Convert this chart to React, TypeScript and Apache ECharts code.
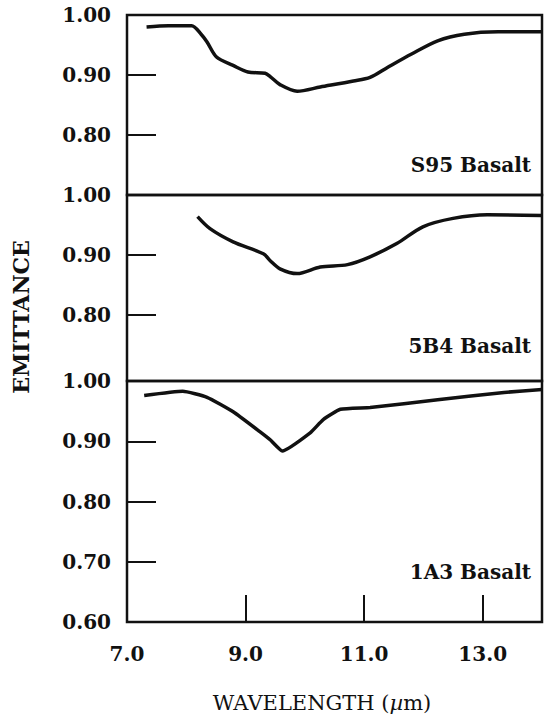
import React, { useEffect, useRef } from "react";
import * as echarts from "echarts";

// S95 Basalt
const s95Wavelength = [7.33, 7.7, 8.09, 8.25, 8.35, 8.51, 8.79, 9.04, 9.33, 9.42, 9.58, 9.87, 10.26, 10.82, 11.1, 11.4, 11.8, 12.24, 12.69, 13.26, 14.0];
const s95Emittance = [0.98, 0.982, 0.982, 0.968, 0.955, 0.93, 0.916, 0.905, 0.903, 0.897, 0.884, 0.873, 0.88, 0.89, 0.896, 0.913, 0.935, 0.957, 0.968, 0.972, 0.972];

// 5B4 Basalt
const b54Wavelength = [8.19, 8.4, 8.79, 9.3, 9.42, 9.58, 9.87, 10.26, 10.72, 11.1, 11.55, 11.99, 12.5, 13.08, 14.0];
const b54Emittance = [0.964, 0.944, 0.922, 0.902, 0.89, 0.877, 0.869, 0.88, 0.884, 0.897, 0.919, 0.947, 0.961, 0.967, 0.966];

// 1A3 Basalt
const a13Wavelength = [7.29, 7.94, 8.35, 8.79, 9.24, 9.42, 9.62, 10.09, 10.31, 10.6, 11.1, 12.24, 13.36, 14.0];
const a13Emittance = [0.976, 0.983, 0.973, 0.949, 0.916, 0.902, 0.884, 0.914, 0.936, 0.953, 0.956, 0.969, 0.981, 0.986];

const panelNames = ["S95 Basalt", "5B4 Basalt", "1A3 Basalt"];
const xTickValues = [9, 11, 13];
const xLabelValues = [7, 9, 11, 13];
const yLabelValuesTop = [0.8, 0.9, 1.0];
const yTickValuesTop = [0.8, 0.9];
const yLabelValuesBottom = [0.6, 0.7, 0.8, 0.9, 1.0];
const yTickValuesBottom = [0.7, 0.8, 0.9];

const INK = "#111";
const FONT = "DejaVu Serif";

const zip = (xs: number[], ys: number[]) => xs.map((x, i) => [x, ys[i]]);

export default function App() {
  const ref = useRef<HTMLDivElement>(null);
  useEffect(() => {
    if (!ref.current) return;
    const chart = echarts.init(ref.current, undefined, { renderer: "svg" });
    const gridBase = { left: 127, width: 415, show: true, borderColor: INK, borderWidth: 2.5, backgroundColor: "transparent" };
    const grids = [
      { ...gridBase, top: 15, height: 180 },
      { ...gridBase, top: 195, height: 186 },
      { ...gridBase, top: 381, height: 241 },
    ];
    const yMins = [0.7, 0.69, 0.6];
    const labelStyle = { color: INK, fontFamily: FONT, fontWeight: "bold" as const, fontSize: 20 };
    const xAxes = grids.map((_, i) => ({
      type: "value",
      gridIndex: i,
      min: 7,
      max: 14,
      axisLine: { show: false },
      splitLine: { show: false },
      axisTick: i === 2
        ? { show: true, inside: true, length: 27, customValues: xTickValues, lineStyle: { color: INK, width: 2 } }
        : { show: false },
      axisLabel: i === 2
        ? { show: true, customValues: xLabelValues, margin: 22, formatter: (v: number) => v.toFixed(1), ...labelStyle }
        : { show: false },
    }));
    const yAxes = grids.map((_, i) => ({
      type: "value",
      gridIndex: i,
      min: yMins[i],
      max: 1.0,
      axisLine: { show: false },
      splitLine: { show: false },
      axisTick: {
        show: true,
        inside: true,
        length: 29,
        customValues: i === 2 ? yTickValuesBottom : yTickValuesTop,
        lineStyle: { color: INK, width: 2 },
      },
      axisLabel: {
        show: true,
        margin: 16,
        customValues: i === 2 ? yLabelValuesBottom : yLabelValuesTop,
        formatter: (v: number) => v.toFixed(2),
        ...labelStyle,
      },
    }));
    const data = [zip(s95Wavelength, s95Emittance), zip(b54Wavelength, b54Emittance), zip(a13Wavelength, a13Emittance)];
    const series = data.map((d, i) => ({
      type: "line",
      name: panelNames[i],
      xAxisIndex: i,
      yAxisIndex: i,
      data: d,
      smooth: i === 2 ? 0.15 : 0.3,
      showSymbol: false,
      lineStyle: { color: INK, width: 3.5 },
    }));
    const labelYs = [165, 346, 572];
    chart.setOption({
      animation: false,
      backgroundColor: "#fff",
      grid: grids,
      xAxis: xAxes,
      yAxis: yAxes,
      series,
      graphic: [
        ...panelNames.map((name, i) => ({
          type: "text",
          x: 531,
          y: labelYs[i],
          style: { text: name, align: "right", verticalAlign: "middle", fill: INK, font: `bold 20px "${FONT}"` },
        })),
        {
          type: "text",
          x: 21,
          y: 317,
          rotation: Math.PI / 2,
          style: { text: "EMITTANCE", align: "center", verticalAlign: "middle", fill: INK, font: `bold 22px "${FONT}"` },
        },
        {
          type: "text",
          x: 322,
          y: 703,
          style: {
            text: "WAVELENGTH ({i|µ}m)",
            align: "center",
            verticalAlign: "middle",
            fill: INK,
            font: `21px "${FONT}"`,
            rich: { i: { fontStyle: "italic", fontFamily: FONT, fontSize: 21, fill: INK } },
          },
        },
      ],
    });
    return () => chart.dispose();
  }, []);
  return <div ref={ref} style={{ position: "fixed", left: 0, top: 0, width: 547, height: 720 }} />;
}
